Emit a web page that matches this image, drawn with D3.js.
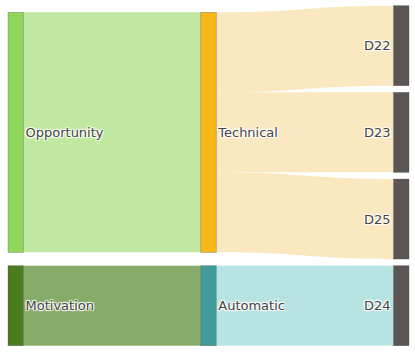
<!DOCTYPE html>
<html>
<head>
<meta charset="utf-8">
<script src="https://cdn.jsdelivr.net/npm/d3@7"></script>
<style>
	body { margin: 0; background: #fff; }
	svg text {
		font-family: "DejaVu Sans", Verdana, sans-serif;
		font-size: 13px;
		fill: #444;
		text-shadow: 1px 1px 1px #fff, -1px -1px 1px #fff, 1px -1px 1px #fff, -1px 1px 1px #fff;
	}
</style>
</head>
<body>
<div id="chart"></div>
<script>
const nodeNames = ["Opportunity", "Motivation", "Technical", "Automatic", "D22", "D23", "D25", "D24"];
const nodeColors = ["#8fd659", "#4a7c1f", "#f7b917", "#419b9b", "#5b5653", "#5b5653", "#5b5653", "#5b5653"];

const linkSources = ["Opportunity", "Motivation", "Technical", "Technical", "Technical", "Automatic"];
const linkTargets = ["Technical", "Automatic", "D22", "D23", "D25", "D24"];
const linkValues = [3, 1, 1, 1, 1, 1];
const linkColors = ["#c1e8a1", "#87ab69", "#fae9c0", "#fae9c0", "#fae9c0", "#b8e3e3"];

const width = 415;
const height = 352;
const margin = { top: 5.7, right: 6, bottom: 6.3, left: 8 };
const nodeWidth = 15.5;
const nodePadding = 6.67;

const svg = d3
	.select("#chart")
	.append("svg")
	.attr("width", width)
	.attr("height", height);

// build nodes / links
const nodes = nodeNames.map((name, i) => ({ name, color: nodeColors[i], sourceLinks: [], targetLinks: [] }));
const byName = new Map(nodes.map((n) => [n.name, n]));
const links = linkSources.map((s, i) => {
	const l = { source: byName.get(s), target: byName.get(linkTargets[i]), value: linkValues[i], color: linkColors[i] };
	l.source.sourceLinks.push(l);
	l.target.targetLinks.push(l);
	return l;
});

nodes.forEach((n) => {
	n.value = Math.max(d3.sum(n.sourceLinks, (l) => l.value), d3.sum(n.targetLinks, (l) => l.value));
});

// depth of each node
const setDepth = (n, d) => {
	n.depth = Math.max(n.depth || 0, d);
	n.sourceLinks.forEach((l) => setDepth(l.target, d + 1));
};
nodes.filter((n) => n.targetLinks.length === 0).forEach((n) => setDepth(n, 0));
const maxDepth = d3.max(nodes, (n) => n.depth);

const xScale = d3
	.scaleLinear()
	.domain([0, maxDepth])
	.range([margin.left, width - margin.right - nodeWidth]);

const columns = d3.range(maxDepth + 1).map((d) => nodes.filter((n) => n.depth === d));
const innerH = height - margin.top - margin.bottom;

// value -> pixel height, fitted to the busiest column
const ky = d3.min(columns, (col) => (innerH - (col.length - 1) * nodePadding) / d3.sum(col, (n) => n.value));
const hScale = d3.scaleLinear().domain([0, 1]).range([0, ky]);

nodes.forEach((n) => {
	n.x0 = xScale(n.depth);
	n.x1 = n.x0 + nodeWidth;
	n.h = hScale(n.value);
});

// last column stacked from top
let y = margin.top;
columns[maxDepth].forEach((n) => {
	n.y0 = y;
	n.y1 = y + n.h;
	y = n.y1 + nodePadding;
});

// earlier columns centred on their targets
for (let d = maxDepth - 1; d >= 0; d--) {
	const col = columns[d];
	col.forEach((n) => {
		const c = d3.sum(n.sourceLinks, (l) => l.value * (l.target.y0 + l.target.y1) / 2) / d3.sum(n.sourceLinks, (l) => l.value);
		n.y0 = c - n.h / 2;
		n.y1 = c + n.h / 2;
	});
	col.sort((a, b) => a.y0 - b.y0);
	let yy = margin.top;
	col.forEach((n) => {
		if (n.y0 < yy) { n.y0 = yy; n.y1 = yy + n.h; }
		yy = n.y1 + nodePadding;
	});
}

// link offsets
nodes.forEach((n) => {
	n.sourceLinks.sort((a, b) => a.target.y0 - b.target.y0);
	n.targetLinks.sort((a, b) => a.source.y0 - b.source.y0);
	let sy = n.y0;
	n.sourceLinks.forEach((l) => { l.sy0 = sy; sy += hScale(l.value); l.sy1 = sy; });
	let ty = n.y0;
	n.targetLinks.forEach((l) => { l.ty0 = ty; ty += hScale(l.value); l.ty1 = ty; });
});

const linkPath = (l) => {
	const x0 = l.source.x1;
	const x1 = l.target.x0;
	const xm = (x0 + x1) / 2;
	const p = d3.path();
	p.moveTo(x0, l.sy0);
	p.bezierCurveTo(xm, l.sy0, xm, l.ty0, x1, l.ty0);
	p.lineTo(x1, l.ty1);
	p.bezierCurveTo(xm, l.ty1, xm, l.sy1, x0, l.sy1);
	p.closePath();
	return p.toString();
};

svg
	.append("g")
	.selectAll("path")
	.data(links)
	.enter()
	.append("path")
	.attr("d", linkPath)
	.attr("fill", (d) => d.color);

svg
	.append("g")
	.selectAll("rect")
	.data(nodes)
	.enter()
	.append("rect")
	.attr("x", (d) => d.x0)
	.attr("y", (d) => d.y0)
	.attr("width", nodeWidth)
	.attr("height", (d) => d.y1 - d.y0)
	.attr("fill", (d) => d.color)
	.attr("stroke", "#444")
	.attr("stroke-opacity", 0.5)
	.attr("stroke-width", 0.6);

svg
	.append("g")
	.selectAll("text")
	.data(nodes)
	.enter()
	.append("text")
	.attr("x", (d) => (d.depth === maxDepth ? d.x0 - 3 : d.x1 + 2))
	.attr("y", (d) => (d.y0 + d.y1) / 2)
	.attr("dy", "0.35em")
	.attr("text-anchor", (d) => (d.depth === maxDepth ? "end" : "start"))
	.text((d) => d.name);
</script>
</body>
</html>
